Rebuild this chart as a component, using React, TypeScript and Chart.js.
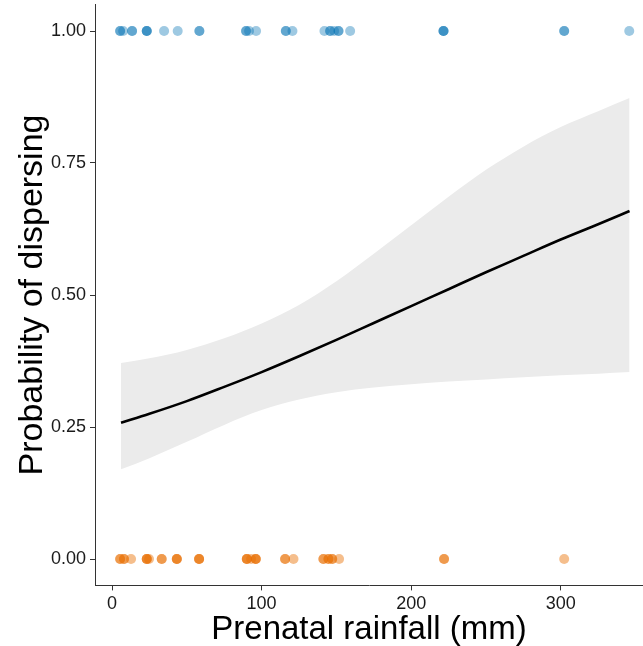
import React, { useEffect, useRef } from 'react';
import { Chart, registerables } from 'chart.js';

Chart.register(...registerables);

// Individuals that dispersed (probability = 1) – prenatal rainfall in mm
const dispersedRain = [
  5.4, 5.4, 7.4, 13.4, 13.4, 23.2, 23.2, 23.2, 34.8, 43.9, 58.4, 58.4,
  89.6, 89.6, 91.6, 96.3, 116.2, 116.2, 120.6, 142.0, 145.8, 145.8, 148.5,
  151.4, 151.4, 159.2, 221.6, 221.6, 221.6, 302.3, 302.3, 345.8,
];
// Individuals that stayed (probability = 0)
const stayedRain = [
  5.4, 5.4, 8.0, 8.0, 12.7, 23.2, 23.2, 23.2, 24.7, 33.2, 33.2, 43.3, 43.3,
  43.3, 58.2, 58.2, 58.2, 90.1, 90.1, 90.1, 93.0, 96.1, 96.1, 96.1, 115.7,
  115.7, 121.3, 141.3, 141.3, 144.7, 144.7, 147.2, 147.2, 151.8, 222.0,
  222.0, 302.3,
];

// Fitted logistic curve and confidence band
const fitRain = [6, 25, 50, 75, 100, 125, 150, 175, 200, 225, 250, 275, 300, 325, 346];
const fitProb = [0.258, 0.275, 0.299, 0.326, 0.354, 0.384, 0.415, 0.447, 0.479, 0.511, 0.543, 0.574, 0.605, 0.634, 0.659];
const fitUpper = [0.371, 0.380, 0.396, 0.418, 0.446, 0.481, 0.526, 0.578, 0.632, 0.686, 0.737, 0.781, 0.818, 0.848, 0.873];
const fitLower = [0.170, 0.191, 0.222, 0.254, 0.282, 0.302, 0.316, 0.325, 0.331, 0.336, 0.340, 0.344, 0.348, 0.351, 0.354];

const xTicks = [0, 100, 200, 300];
const yTicks = [0, 0.25, 0.5, 0.75, 1];

const FONT = "'Liberation Sans', Arial, Helvetica, sans-serif";

export default function App() {
  const ref = useRef<HTMLCanvasElement | null>(null);

  useEffect(() => {
    document.body.style.margin = '0';
    const canvas = ref.current;
    if (!canvas) return;

    const pts = (xs: number[], y: number) => xs.map((x) => ({ x, y }));
    const curve = (ys: number[]) => fitRain.map((x, i) => ({ x, y: ys[i] }));

    const chart = new Chart(canvas, {
      type: 'line',
      data: {
        datasets: [
          {
            data: curve(fitProb),
            borderColor: '#000000',
            borderWidth: 2.6,
            pointRadius: 0,
            cubicInterpolationMode: 'monotone',
            fill: false,
          },
          {
            data: pts(dispersedRain, 1),
            showLine: false,
            pointRadius: 5,
            pointBorderWidth: 0,
            pointBackgroundColor: 'rgba(0,114,178,0.38)',
            pointBorderColor: 'rgba(0,0,0,0)',
          },
          {
            data: pts(stayedRain, 0),
            showLine: false,
            pointRadius: 5,
            pointBorderWidth: 0,
            pointBackgroundColor: 'rgba(232,110,0,0.45)',
            pointBorderColor: 'rgba(0,0,0,0)',
          },
          {
            data: curve(fitUpper),
            borderWidth: 0,
            borderColor: 'rgba(0,0,0,0)',
            pointRadius: 0,
            backgroundColor: '#EBEBEB',
            cubicInterpolationMode: 'monotone',
            fill: '+1',
          },
          {
            data: curve(fitLower),
            borderWidth: 0,
            borderColor: 'rgba(0,0,0,0)',
            pointRadius: 0,
            cubicInterpolationMode: 'monotone',
            fill: false,
          },
        ],
      },
      options: {
        responsive: false,
        animation: false,
        devicePixelRatio: 1,
        events: [],
        layout: { autoPadding: false, padding: { top: 4.6, right: 0, bottom: 0, left: 0 } },
        plugins: { legend: { display: false }, tooltip: { enabled: false } },
        scales: {
          x: {
            type: 'linear',
            min: -11.4,
            max: 355,
            afterFit: (s: any) => {
              s.height = 60.6;
              s.paddingLeft = 0;
              s.paddingRight = 0;
            },
            afterBuildTicks: (s: any) => {
              s.ticks = xTicks.map((value) => ({ value }));
            },
            grid: { drawOnChartArea: false, drawTicks: true, tickLength: 5, color: '#333333', lineWidth: 1 },
            border: { display: true, color: '#333333', width: 1 },
            ticks: {
              font: { family: FONT, size: 18 },
              color: '#1a1a1a',
              padding: 3,
              maxRotation: 0,
              autoSkip: false,
              callback: (v: any) => String(v),
            },
            title: {
              display: true,
              text: 'Prenatal rainfall (mm)',
              color: '#000000',
              font: { family: FONT, size: 33, lineHeight: 1 },
              padding: { top: 1.5, bottom: 0 },
            },
          },
          y: {
            type: 'linear',
            min: -0.05,
            max: 1.05,
            afterFit: (s: any) => {
              s.width = 95;
              s.paddingTop = 0;
              s.paddingBottom = 0;
            },
            afterBuildTicks: (s: any) => {
              s.ticks = yTicks.map((value) => ({ value }));
            },
            grid: { drawOnChartArea: false, drawTicks: true, tickLength: 5, color: '#333333', lineWidth: 1 },
            border: { display: true, color: '#333333', width: 1 },
            ticks: {
              font: { family: FONT, size: 18 },
              color: '#1a1a1a',
              padding: 4,
              autoSkip: false,
              callback: (v: any) => Number(v).toFixed(2),
            },
            title: {
              display: true,
              text: 'Probability of dispersing',
              color: '#000000',
              font: { family: FONT, size: 34, lineHeight: 1 },
              padding: { top: 15.5, bottom: 0 },
            },
          },
        },
      },
    } as any);

    return () => chart.destroy();
  }, []);

  return (
    <canvas
      ref={ref}
      width={643}
      height={646}
      style={{ display: 'block', width: 643, height: 646 }}
    />
  );
}
